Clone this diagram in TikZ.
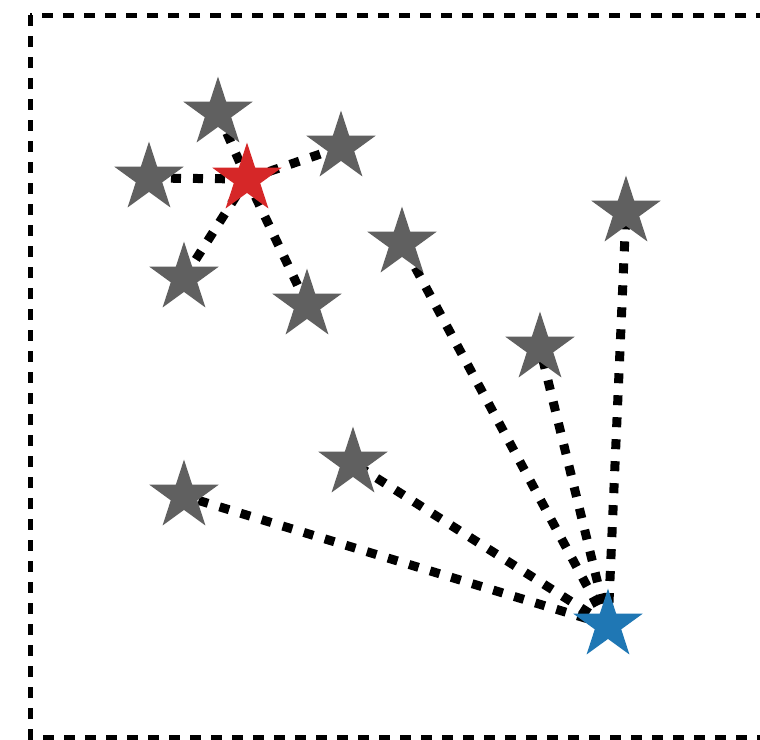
\documentclass[tikz,border=0pt]{standalone}
\usetikzlibrary{shapes.geometric}
\usetikzlibrary{backgrounds}
\definecolor{stargray}{RGB}{96,96,96}
\definecolor{tabred}{RGB}{214,39,40}
\definecolor{tabblue}{RGB}{31,119,180}
\tikzset{gstar/.style = {star, star points=5, star point ratio=2.618,
                         fill=stargray, draw=stargray, line width=1.2pt,
                         inner sep=0, minimum size=69pt}}
\tikzset{rstar/.style = {gstar, fill=tabred, draw=tabred}}
\tikzset{bstar/.style = {gstar, fill=tabblue, draw=tabblue}}
\tikzset{link/.style = {line width=9pt, dash pattern=on 10pt off 12pt}}
\tikzset{frame/.style = {line width=5pt, dash pattern=on 11pt off 10pt}}

\begin{document}
\begin{tikzpicture}[x=1pt, y=-1pt]
      \useasboundingbox (0,0) rectangle (760,739);
      \clip (0,0) rectangle (760,739);
      \draw[frame] (30,15) rectangle (800,737);

      \node[gstar] (n1) at (218,113) {};
      \node[gstar] (n2) at (149,178) {};
      \node[gstar] (n3) at (341,147) {};
      \node[rstar] (red) at (247,179) {};
      \node[gstar] (n4) at (184,278) {};
      \node[gstar] (n5) at (307,305) {};
      \node[gstar] (n6) at (402,243) {};
      \node[gstar] (n7) at (626,212) {};
      \node[gstar] (n8) at (540,348) {};
      \node[gstar] (n9) at (353,463) {};
      \node[gstar] (n10) at (184,496) {};
      \node[bstar] (blue) at (608,625) {};

      % links sit under the stars
      \begin{scope}[on background layer]
        \foreach \n in {n1,n2,n3,n4,n5}
          \draw[link] (\n.center) -- (red.center);
        \foreach \n in {n6,n7,n8,n9,n10}
          \draw[link] (blue.center) -- (\n.center);
      \end{scope}
    \end{tikzpicture}
\end{document}
